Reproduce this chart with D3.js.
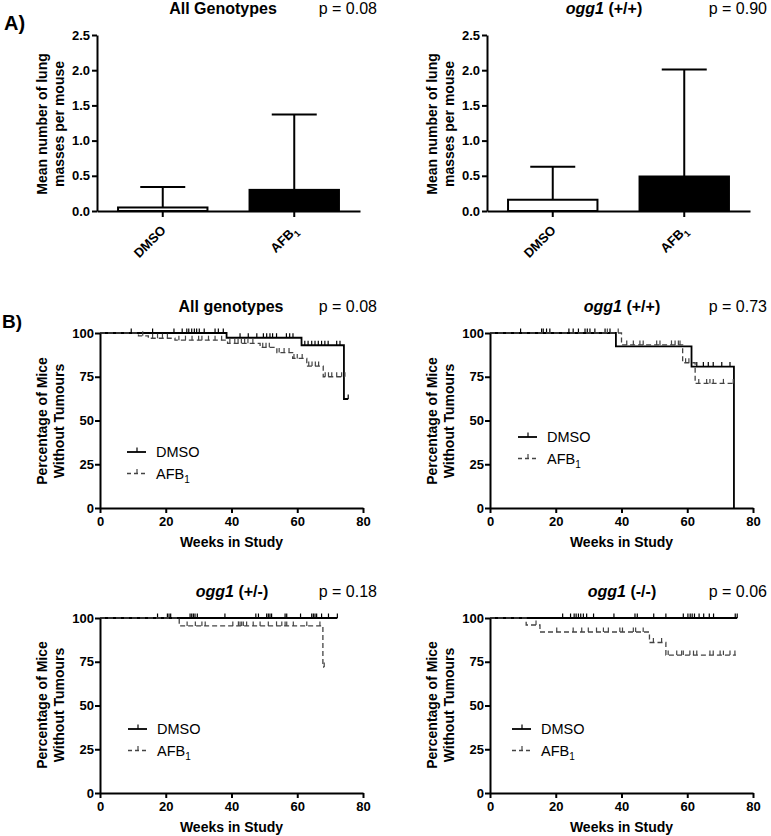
<!DOCTYPE html>
<html>
<head>
<meta charset="utf-8">
<script src="https://cdnjs.cloudflare.com/ajax/libs/d3/7.8.5/d3.min.js"></script>
<style>
  body { margin: 0; background: #fff; }
</style>
</head>
<body>
<div id="app"></div>
<script>
const FONT = '"Liberation Sans", Arial, sans-serif';

// ---- A) bar charts: mean lung masses per mouse (+ SD) ----
const groups = ['DMSO', 'AFB1'];
const barTicks = [0, 0.5, 1.0, 1.5, 2.0, 2.5];
const allMeans = [0.05, 0.30];
const allSD = [0.29, 1.07];
const wtMeans = [0.16, 0.49];
const wtSD = [0.47, 1.52];

// ---- B) Kaplan-Meier: [week, % without tumours] step points, censor weeks ----
const weekTicks = [0, 20, 40, 60, 80];
const pctTicks = [0, 25, 50, 75, 100];

const allDmsoSteps = [[0, 100], [38.5, 97.3], [61.3, 93], [74.2, 62.3], [75.5, 62.3]];
const allDmsoCens = [9.5, 16, 22.5, 25, 26.4, 27, 27.9, 28.7, 29.4, 30.2, 31.7, 35, 36, 37.5,
  42.6, 45.1, 47.7, 49.7, 50.7, 51.7, 52.5, 53.7, 56.7, 57.7, 58.7,
  62.3, 63.3, 64.4, 65.4, 66.4, 67.4, 68.4, 69.4, 72, 73, 75.5];
const allAfbSteps = [[0, 100], [11.7, 98.4], [14.7, 97], [22.8, 95.9], [38.8, 94.1], [48.7, 91.8],
  [53.8, 88.8], [58.6, 85.5], [62.9, 81.1], [67.9, 75], [74.5, 75]];
const allAfbCens = [13, 16, 17.5, 19, 20.5, 24, 26, 28, 30, 31, 33, 35, 37,
  39.5, 41, 42, 43, 44, 45, 46.5, 49.5, 50.5, 51.5, 54.5, 56, 57.5, 59, 60, 61.5,
  63.5, 64.5, 65.5, 66.5, 68.5, 69.5, 70.5, 72, 73.5, 74.5];

const wtDmsoSteps = [[0, 100], [38.3, 92.4], [61.3, 80.8], [74.2, 0]];
const wtDmsoCens = [9.3, 15.7, 16.2, 17.2, 18.2, 24, 25.3, 26.9, 28.9, 29.6, 30.4, 31.9, 35, 36.5,
  62.9, 64.9, 66.4, 67.9, 70.5, 73];
const wtAfbSteps = [[0, 100], [40, 93.2], [58.6, 83], [62.4, 71.2], [74, 71.2]];
const wtAfbCens = [35.7, 39, 41.6, 43.6, 45.6, 46.6, 50.7, 51.7, 55.2, 56.3, 57.3, 57.8,
  59.5, 60.5, 63.5, 65.9, 66.9, 67.9, 71, 74];

const hetDmsoSteps = [[0, 100], [72.2, 100]];
const hetDmsoCens = [17.5, 20.5, 21, 21.5, 27.4, 27.9, 28.4, 28.9, 29.6, 38, 47.4, 48.2,
  50.7, 51.2, 51.7, 52.2, 56.3, 56.8, 61, 64.4, 64.9, 65.4, 65.9, 67.4, 69.5, 72.2];
const hetAfbSteps = [[0, 100], [24.1, 95.5], [67.8, 72], [68.2, 72]];
const hetAfbCens = [26.5, 29, 31, 32, 40.4, 42.1, 42.6, 43.1, 43.6, 44.6, 46.6, 48.7,
  51.2, 53.7, 55.3, 56.3, 56.8, 58.8, 62.9, 66.9, 68.2];

const homDmsoSteps = [[0, 100], [75.2, 100]];
const homDmsoCens = [22.1, 24.5, 25.6, 26.2, 26.9, 27.6, 28.4, 29.4, 31.5, 37.7, 44.1, 44.8,
  49.8, 53.5, 58.8, 60.2, 60.9, 61.5, 62.2, 63.6, 65, 66.7, 68, 74.6, 75.2];
const homAfbSteps = [[0, 100], [11, 96], [15.2, 92], [48.5, 86], [53.5, 78.8], [74.8, 78.8]];
const homAfbCens = [14, 20.3, 25.3, 27.9, 29.9, 32.4, 34.5, 36, 39.5, 40.3, 43.6, 44.3, 46.6,
  49.7, 52.2, 54.2, 56.8, 58.3, 58.8, 60.8, 61.9, 62.9, 66.9, 67.9, 70, 71, 73, 74.5];

const svg = d3.select('#app').append('svg')
  .attr('width', 771).attr('height', 836)
  .attr('font-family', FONT);

function styleAxis(sel) {
  sel.attr('font-family', FONT).attr('font-size', 13).attr('font-weight', 'bold');
  sel.select('.domain').attr('stroke', '#000').attr('stroke-width', 2);
  sel.selectAll('.tick line').attr('stroke', '#000').attr('stroke-width', 2);
  sel.selectAll('.tick text').attr('fill', '#000');
}

// label with subscript for AFB1
function groupLabel(text, name, small) {
  if (name === 'AFB1') {
    text.append('tspan').text('AFB');
    text.append('tspan').attr('font-size', small).attr('dy', 4).text('1');
  } else {
    text.text(name);
  }
}

function panelTitle(cx, baseY, gene, geno, pEnd, p) {
  const t = svg.append('text')
    .attr('x', cx).attr('y', baseY)
    .attr('text-anchor', 'middle')
    .attr('font-size', 16).attr('font-weight', 'bold').attr('fill', '#000');
  if (gene) {
    t.append('tspan').attr('font-style', 'italic').text(gene);
    t.append('tspan').text(' ' + geno);
  } else {
    t.text(geno);
  }
  svg.append('text')
    .attr('x', pEnd).attr('y', baseY)
    .attr('text-anchor', 'end')
    .attr('font-size', 16).attr('fill', '#000')
    .text('p = ' + p);
}

function yLabel(cx, cy, line1, line2) {
  const t = svg.append('text')
    .attr('transform', `translate(${cx},${cy}) rotate(-90)`)
    .attr('text-anchor', 'middle')
    .attr('font-size', 14).attr('font-weight', 'bold').attr('fill', '#000');
  t.append('tspan').attr('x', 0).attr('y', 0).text(line1);
  t.append('tspan').attr('x', 0).attr('y', 17).text(line2);
}

// ---------- bar panel ----------
function drawBars(x0, means, sds) {
  const top = 35, bottom = 211, width = 263;
  const x = d3.scaleBand().domain(groups).range([x0, x0 + width])
    .paddingInner(0.32).paddingOuter(0.16);
  const y = d3.scaleLinear().domain([0, 2.5]).range([bottom, top]);
  const g = svg.append('g');

  g.selectAll('rect.bar')
    .data(groups)
    .enter()
    .append('rect')
    .attr('class', 'bar')
    .attr('x', d => x(d))
    .attr('width', x.bandwidth())
    .attr('y', (d, i) => y(means[i]))
    .attr('height', (d, i) => y(0) - y(means[i]))
    .attr('fill', (d, i) => i === 0 ? '#fff' : '#000')
    .attr('stroke', '#000')
    .attr('stroke-width', 2);

  // error bars (upper only)
  groups.forEach((d, i) => {
    const cx = x(d) + x.bandwidth() / 2;
    const yt = y(means[i] + sds[i]);
    g.append('line').attr('x1', cx).attr('x2', cx)
      .attr('y1', y(means[i])).attr('y2', yt)
      .attr('stroke', '#000').attr('stroke-width', 2);
    g.append('line').attr('x1', cx - 22.5).attr('x2', cx + 22.5)
      .attr('y1', yt).attr('y2', yt)
      .attr('stroke', '#000').attr('stroke-width', 2);
  });

  g.append('g')
    .attr('transform', `translate(${x0},0)`)
    .call(d3.axisLeft(y).tickValues(barTicks).tickFormat(d3.format('.1f')).tickSize(5).tickPadding(2).tickSizeOuter(0))
    .call(styleAxis);

  g.append('g')
    .attr('transform', `translate(0,${bottom})`)
    .call(d3.axisBottom(x).tickFormat('').tickSize(6).tickSizeOuter(0))
    .call(styleAxis);

  groups.forEach(d => {
    const cx = x(d) + x.bandwidth() / 2;
    const t = g.append('text')
      .attr('transform', `translate(${cx + 4},${bottom + 20}) rotate(-45)`)
      .attr('text-anchor', 'end')
      .attr('font-size', 13).attr('font-weight', 'bold').attr('fill', '#000');
    groupLabel(t, d, 9);
  });
}

// ---------- Kaplan-Meier panel ----------
function survAt(steps, t) {
  let s = steps[0][1];
  steps.forEach(p => { if (p[0] <= t) s = p[1]; });
  return s;
}

function drawKM(x0, y0, series, legendX, legendY) {
  const x = d3.scaleLinear().domain([0, 80]).range([x0, x0 + 263]);
  const y = d3.scaleLinear().domain([0, 100]).range([y0, y0 - 175]);
  const g = svg.append('g');

  const line = d3.line().x(d => x(d[0])).y(d => y(d[1])).curve(d3.curveStepAfter);

  series.forEach(s => {
    g.append('path')
      .datum(s.steps)
      .attr('d', line)
      .attr('fill', 'none')
      .attr('stroke', s.color)
      .attr('stroke-width', s.width)
      .attr('stroke-dasharray', s.dash);
    g.selectAll(null)
      .data(s.cens)
      .enter()
      .append('line')
      .attr('x1', d => x(d)).attr('x2', d => x(d))
      .attr('y1', d => y(survAt(s.steps, d)))
      .attr('y2', d => y(survAt(s.steps, d)) - 4.5)
      .attr('stroke', s.color)
      .attr('stroke-width', 1.2);
  });

  g.append('g')
    .attr('transform', `translate(${x0},0)`)
    .call(d3.axisLeft(y).tickValues(pctTicks).tickSize(5).tickPadding(1).tickSizeOuter(0))
    .call(styleAxis);
  g.append('g')
    .attr('transform', `translate(0,${y0})`)
    .call(d3.axisBottom(x).tickValues(weekTicks).tickSize(5).tickPadding(4).tickSizeOuter(0))
    .call(styleAxis);

  svg.append('text')
    .attr('x', x0 + 131.5).attr('y', y0 + 39)
    .attr('text-anchor', 'middle')
    .attr('font-size', 14).attr('font-weight', 'bold').attr('fill', '#000')
    .text('Weeks in Study');

  // legend
  series.forEach((s, i) => {
    const ly = legendY + i * 21.5;
    g.append('line')
      .attr('x1', legendX).attr('x2', legendX + 19)
      .attr('y1', ly).attr('y2', ly)
      .attr('stroke', s.color).attr('stroke-width', s.width)
      .attr('stroke-dasharray', s.dash ? '4,3' : null);
    g.append('line')
      .attr('x1', legendX + 10).attr('x2', legendX + 10)
      .attr('y1', ly).attr('y2', ly - 4.5)
      .attr('stroke', s.color).attr('stroke-width', 1.2);
    const t = g.append('text')
      .attr('x', legendX + 29).attr('y', ly + 5)
      .attr('font-size', 14.5).attr('fill', '#000');
    groupLabel(t, s.name, 10);
  });
}

function kmSeries(dSteps, dCens, aSteps, aCens) {
  return [
    { name: 'DMSO', steps: dSteps, cens: dCens, color: '#000', width: 1.8, dash: null },
    { name: 'AFB1', steps: aSteps, cens: aCens, color: '#444', width: 1.3, dash: '5,3' }
  ];
}

// ---------- panel letters ----------
svg.append('text').attr('x', 4).attr('y', 30)
  .attr('font-size', 20).attr('font-weight', 'bold').attr('fill', '#000').text('A)');
svg.append('text').attr('x', 2).attr('y', 328)
  .attr('font-size', 19).attr('font-weight', 'bold').attr('fill', '#000').text('B)');

// ---------- A ----------
panelTitle(223, 13.5, null, 'All Genotypes', 377, '0.08');
yLabel(47, 124, 'Mean number of lung', 'masses per mouse');
drawBars(97, allMeans, allSD);

panelTitle(604, 13.5, 'ogg1', '(+/+)', 767, '0.90');
yLabel(437, 124, 'Mean number of lung', 'masses per mouse');
drawBars(487, wtMeans, wtSD);

// ---------- B ----------
panelTitle(231, 312, null, 'All genotypes', 377, '0.08');
yLabel(47, 421, 'Percentage of Mice', 'Without Tumours');
drawKM(100, 508, kmSeries(allDmsoSteps, allDmsoCens, allAfbSteps, allAfbCens), 127, 452);

panelTitle(622, 312, 'ogg1', '(+/+)', 767, '0.73');
yLabel(437, 421, 'Percentage of Mice', 'Without Tumours');
drawKM(490, 508, kmSeries(wtDmsoSteps, wtDmsoCens, wtAfbSteps, wtAfbCens), 518, 437);

panelTitle(232, 597, 'ogg1', '(+/-)', 377, '0.18');
yLabel(47, 705, 'Percentage of Mice', 'Without Tumours');
drawKM(100, 793, kmSeries(hetDmsoSteps, hetDmsoCens, hetAfbSteps, hetAfbCens), 128, 729);

panelTitle(622, 597, 'ogg1', '(-/-)', 767, '0.06');
yLabel(437, 705, 'Percentage of Mice', 'Without Tumours');
drawKM(490, 793, kmSeries(homDmsoSteps, homDmsoCens, homAfbSteps, homAfbCens), 512, 729);
</script>
</body>
</html>
